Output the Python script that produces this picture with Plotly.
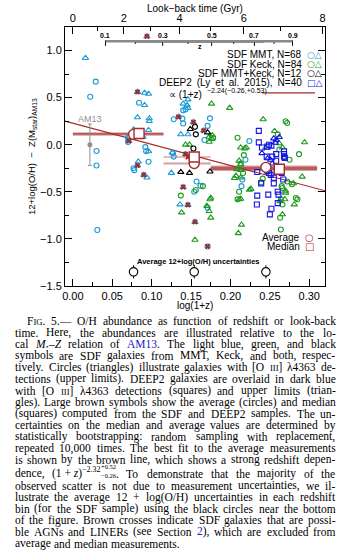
import glob
import re
import struct

import numpy as np
import plotly.graph_objects as go

# ---------------- data ----------------
# SDF MMT (light blue): [O III]4363 detections (circles) and upper limits (triangles)
mmt_det_x = [0.029, 0.022, 0.084, 0.092, 0.030, 0.030, 0.077, 0.078, 0.096, 0.031, 0.070, 0.070, 0.093,
             0.143, 0.140, 0.128, 0.140, 0.139, 0.174, 0.171, 0.167, 0.127, 0.128, 0.162, 0.154, 0.157,
             0.171, 0.171, 0.224, 0.219, 0.215, 0.214]
mmt_det_y = [0.67, 0.51, 0.445, -0.025, -0.066, -0.22, -0.25, -0.27, -0.18, -0.905, 0.074, 0.03, -0.07,
             0.375, 0.365, 0.27, 0.225, 0.277, 0.28, 0.20, 0.05, -0.09, -0.126, -0.435, -0.50, -0.39,
             -0.67, -1.08, 0.04, -0.16, -0.37, -0.44]
mmt_lim_x = [0.016, 0.094, 0.082, 0.091, 0.096, 0.091, 0.082, 0.097, 0.097, 0.077, 0.096, 0.071, 0.089,
             0.096, 0.082, 0.094, 0.083, 0.071, 0.090, 0.146, 0.145, 0.146, 0.140, 0.137, 0.146, 0.126,
             0.125, 0.136, 0.143, 0.134, 0.153, 0.166, 0.140, 0.146, 0.155]
mmt_lim_y = [0.92, 1.15, 0.56, 0.55, 0.54, 0.42, 0.29, 0.28, 0.25, 0.16, 0.155, 0.08, 0.084,
             -0.07, -0.22, -0.35, -0.18, 0.04, -0.32, 0.48, 0.42, 0.39, 0.435, 0.11, 0.11, -0.084,
             -0.30, -0.635, -0.10, 0.295, 0.24, 0.15, -0.45, -0.64, -0.82]

# SDF Keck (green)
keck_det_x = [0.209, 0.165, 0.156, 0.137, 0.211, 0.270, 0.272, 0.260, 0.275, 0.217, 0.213, 0.265, 0.278,
              0.264, 0.266, 0.285, 0.263, 0.264, 0.272, 0.266, 0.283, 0.241, 0.239, 0.209, 0.268, 0.178,
              0.262, 0.216, 0.287]
keck_det_y = [0.074, -0.44, -0.48, -0.54, -0.50, 0.25, 0.23, 0.11, -0.16, -0.11, -0.20, -0.44, -0.42,
              -0.58, -0.635, -0.58, -0.775, -0.90, -0.39, -0.46, -0.565, -0.36, -0.40, -0.58, -0.13, 0.07,
              -0.05, -0.30, -0.10]
keck_lim_x = [0.176, 0.199, 0.173, 0.176, 0.143, 0.148, 0.213, 0.218, 0.177, 0.173, 0.174, 0.175, 0.170,
              0.173, 0.175, 0.138, 0.155, 0.210, 0.214, 0.213, 0.205, 0.2415, 0.256, 0.294, 0.220, 0.262,
              0.266, 0.213, 0.213, 0.207, 0.226, 0.211, 0.270, 0.291, 0.263, 0.269, 0.281, 0.266, 0.224,
              0.211, 0.213, 0.270, 0.280, 0.241, 0.208, 0.245]
keck_lim_y = [0.435, 0.39, 0.084, 0.066, 0.0, 0.0, -0.03, -0.04, 0.10, 0.03, -0.58, -0.565, -0.65,
              -0.705, -0.775, -0.72, -1.01, -0.94, -0.85, -0.575, -0.355, 0.27, 0.145, 0.025, -0.03, 0.014,
              -0.03, -0.21, -0.27, -0.33, -0.47, -0.58, -0.49, -0.34, -0.60, -0.58, -0.635, -0.74, -0.48,
              -0.17, -0.35, -0.51, -0.41, -0.25, -0.26, -0.03]

# SDF MMT+Keck (black)
both_det_x = [0.155, 0.156, 0.153]
both_det_y = [0.19, 0.11, -0.04]
both_lim_x = [0.149, 0.171, 0.137, 0.148, 0.174]
both_lim_y = [0.165, 0.13, -0.29, -0.30, -0.285]

# DEEP2 (dark blue): detections (squares) and upper limits (triangles)
deep_det_x = [0.236, 0.236, 0.240, 0.247, 0.249, 0.252, 0.258, 0.268, 0.246, 0.253, 0.258, 0.268, 0.268,
              0.269, 0.247, 0.249, 0.251, 0.239, 0.255, 0.234, 0.265, 0.267, 0.234, 0.248, 0.260, 0.261,
              0.252, 0.250, 0.2335, 0.260, 0.255]
deep_det_y = [0.147, 0.025, -0.03, -0.02, 0.0, -0.01, -0.10, -0.10, -0.126, -0.126, -0.17, -0.126, -0.07,
              -0.14, -0.28, -0.30, -0.32, -0.41, -0.41, -0.29, -0.30, -0.37, -0.54, -0.53, -0.50, -0.53,
              -0.68, -0.74, -0.635, -0.62, -0.35]
deep_lim_x = [0.255, 0.258, 0.240, 0.247, 0.251, 0.253, 0.257, 0.262]
deep_lim_y = [0.066, 0.05, -0.09, -0.145, -0.16, -0.20, 0.02, 0.08]

# possible AGN / LINERs (brown crosses)
agn_x = [0.094, 0.082, 0.071, 0.082, 0.090, 0.134, 0.153, 0.166, 0.143, 0.146, 0.140, 0.146, 0.155, 0.171]
agn_y = [1.15, 0.56, 0.04, -0.22, -0.32, 0.295, 0.24, 0.15, -0.10, -0.13, -0.45, -0.64, -0.82, -1.08]

# binned statistics: bin edges in log(1+z), average and median with bootstrap ranges
bin_lo = [0.0, 0.115, 0.175]
bin_hi = [0.115, 0.175, 0.31]
avg_x = [0.077, 0.154, 0.245]
avg_y = [0.11, -0.20, -0.24]
avg_lo = [0.095, -0.21, -0.265]
avg_hi = [0.125, -0.19, -0.22]
med_x = [0.084, 0.154, 0.262]
med_y = [0.12, -0.13, -0.26]
med_lo = [0.105, -0.135, -0.275]
med_hi = [0.13, -0.125, -0.235]

# average 12+log(O/H) measurement uncertainty per bin (SDF)
unc_y = [-1.35, -1.35, -1.35]
unc_err = [0.07, 0.07, 0.07]

# local relation reference point
am13_x = [0.0216]
am13_y = [0.0]
am13_err = [0.22]

# best fit: y = intercept + slope * log(1+z)
fit_slope = -2.24
fit_intercept = 0.228

# redshift scale and look-back time ticks
z_labels = [0.1, 0.3, 0.5, 0.7, 0.9]
z_minor = [0.2, 0.4, 0.6, 0.8]
z_span = [0.1, 0.9]
z_dark = [0.2, 0.75]
lbt_major = [0, 2, 4, 6, 8]
lbt_minor = [1, 3, 5, 7]

# ---------------- styling ----------------
LBLUE = "#1c9ad6"
GREEN = "#1f9a1f"
DBLUE = "#1414e6"
BROWN = "#a52a2a"
LINK = "#2020c0"
XR = [-0.01, 0.32]
YR = [-1.5, 1.25]
W, H = 347, 557
ML, MR, MT, MB = 65, 22, 24, 271
PW, PH = W - ML - MR, H - MT - MB
SANS = "Liberation Sans"
SERIF = "Liberation Serif"


def px(xpix):
    return (xpix - ML) / PW


def py(ypix):
    return (MT + PH - ypix) / PH


def note(xpix, ypix, text, size=10, xanchor="center", family=SANS, color="black", **kw):
    fig.add_annotation(xref="paper", yref="paper", x=px(xpix), y=py(ypix), xanchor=xanchor,
                       yanchor="middle", text=text, showarrow=False,
                       font=dict(size=size, family=family, color=color), **kw)


# ---------- font metrics for laying out the justified caption ----------
def load_advance(fname):
    paths = glob.glob(f"/usr/share/fonts/**/{fname}", recursive=True)
    if not paths:
        return None
    data = open(paths[0], "rb").read()
    ntab = struct.unpack(">H", data[4:6])[0]
    tabs = {}
    for i in range(ntab):
        tag, _, off, ln = struct.unpack(">4sIII", data[12 + 16 * i:28 + 16 * i])
        tabs[tag.decode("latin1")] = off
    upem = struct.unpack(">H", data[tabs["head"] + 18:tabs["head"] + 20])[0]
    nhm = struct.unpack(">H", data[tabs["hhea"] + 34:tabs["hhea"] + 36])[0]
    hm = tabs["hmtx"]
    adv = [struct.unpack(">H", data[hm + 4 * i:hm + 4 * i + 2])[0] for i in range(nhm)]
    cm = tabs["cmap"]
    sub = None
    for i in range(struct.unpack(">H", data[cm + 2:cm + 4])[0]):
        pid, eid, off = struct.unpack(">HHI", data[cm + 4 + 8 * i:cm + 12 + 8 * i])
        if pid == 3 and eid == 1:
            sub = cm + off
    if sub is None or struct.unpack(">H", data[sub:sub + 2])[0] != 4:
        return None
    seg2 = struct.unpack(">H", data[sub + 6:sub + 8])[0]
    n = seg2 // 2
    ends = struct.unpack(f">{n}H", data[sub + 14:sub + 14 + seg2])
    so = sub + 16 + seg2
    starts = struct.unpack(f">{n}H", data[so:so + seg2])
    deltas = struct.unpack(f">{n}h", data[so + seg2:so + 2 * seg2])
    ro = so + 2 * seg2
    ros = struct.unpack(f">{n}H", data[ro:ro + seg2])

    def glyph(c):
        c = ord(c)
        for k in range(n):
            if c <= ends[k]:
                if c < starts[k]:
                    return None
                if ros[k] == 0:
                    return (c + deltas[k]) & 0xFFFF
                a = ro + 2 * k + ros[k] + 2 * (c - starts[k])
                g = struct.unpack(">H", data[a:a + 2])[0]
                return (g + deltas[k]) & 0xFFFF if g else None
        return None

    def em(text):
        tot = 0.0
        for ch in text:
            g = glyph(ch)
            tot += (adv[min(g, nhm - 1)] / upem) if g else 0.5
        return tot
    return em


try:
    _reg = load_advance("LiberationSerif-Regular.ttf")
    _ita = load_advance("LiberationSerif-Italic.ttf") or _reg
except Exception:
    _reg = _ita = None


def measure(text, size, italic):
    fn = _ita if italic else _reg
    if fn is None:
        return 0.45 * len(text) * size
    return fn(text) * size


TAG = re.compile(r"<[^>]+>")


def markup_width(markup, size):
    w, pos, ital, stack, cur = 0.0, 0, 0, [], size
    for m in TAG.finditer(markup):
        w += measure(markup[pos:m.start()], cur, ital > 0)
        tag = m.group(0)
        if tag == "<i>":
            ital += 1
        elif tag == "</i>":
            ital -= 1
        elif tag.startswith("<span"):
            stack.append(cur)
            fm = re.search(r"font-size:([\d.]+)px", tag)
            if fm:
                cur = float(fm.group(1))
        elif tag in ("<sub>", "<sup>"):
            stack.append(cur)
            cur *= 0.7
        elif tag in ("</span>", "</sub>", "</sup>") and stack:
            cur = stack.pop()
        pos = m.end()
    return w + measure(markup[pos:], cur, ital > 0)


# look-back time (H0=70, Om=0.3 flat) -> log(1+z)
zg = np.linspace(0, 1.4, 4001)
ez = np.sqrt(0.3 * (1 + zg) ** 3 + 0.7)
integrand = 1.0 / ((1 + zg) * ez)
tl = np.concatenate([[0], np.cumsum(0.5 * (integrand[1:] + integrand[:-1]) * np.diff(zg))]) * 977.8 / 70.0


def lbt_to_x(t):
    return np.log10(1 + np.interp(t, tl, zg))


fig = go.Figure()

# bin bands
for i in range(len(bin_lo)):
    for lo, hi, op in ((avg_lo[i], avg_hi[i], 0.45), (med_lo[i], med_hi[i], 0.6)):
        fig.add_trace(go.Scatter(x=[bin_lo[i], bin_hi[i], bin_hi[i], bin_lo[i], bin_lo[i]],
                                 y=[lo, lo, hi, hi, lo], mode="lines", fill="toself",
                                 fillcolor=f"rgba(165,42,42,{op})", line=dict(width=0),
                                 showlegend=False, hoverinfo="skip"))

# best-fit line
fx = np.linspace(XR[0], XR[1], 50)
fig.add_trace(go.Scatter(x=fx, y=fit_intercept + fit_slope * fx, mode="lines",
                         line=dict(color=BROWN, width=1.2), showlegend=False))


def pts(x, y, sym, color, size):
    fig.add_trace(go.Scatter(x=x, y=y, mode="markers", showlegend=False,
                             marker=dict(symbol=sym, color=color, size=size,
                                         line=dict(width=1.1, color=color))))


pts(mmt_det_x, mmt_det_y, "circle-open", LBLUE, 5)
pts(mmt_lim_x, mmt_lim_y, "triangle-up-open", LBLUE, 5.5)
pts(keck_det_x, keck_det_y, "circle-open", GREEN, 5)
pts(keck_lim_x, keck_lim_y, "triangle-up-open", GREEN, 5.5)
pts(both_det_x, both_det_y, "circle-open", "black", 5)
pts(both_lim_x, both_lim_y, "triangle-up-open", "black", 5.5)
pts(deep_det_x, deep_det_y, "square-open", DBLUE, 5)
pts(deep_lim_x, deep_lim_y, "triangle-up-open", DBLUE, 5.5)

fig.add_trace(go.Scatter(x=agn_x, y=agn_y, mode="markers", showlegend=False,
                         marker=dict(symbol="x", size=5, color=BROWN, line=dict(width=0))))

# average and median
fig.add_trace(go.Scatter(x=avg_x, y=avg_y, mode="markers", showlegend=False,
                         marker=dict(symbol="circle", size=10, color="white",
                                     line=dict(color=BROWN, width=1.4))))
fig.add_trace(go.Scatter(x=med_x, y=med_y, mode="markers", showlegend=False,
                         marker=dict(symbol="square", size=10, color="white",
                                     line=dict(color=BROWN, width=1.4))))

# measurement uncertainties
fig.add_trace(go.Scatter(x=avg_x, y=unc_y, mode="markers", showlegend=False,
                         error_y=dict(type="data", array=unc_err, color="black", thickness=1, width=0),
                         marker=dict(symbol="circle", size=8.5, color="white",
                                     line=dict(color="black", width=1.1))))

# AM13 reference
fig.add_trace(go.Scatter(x=am13_x, y=am13_y, mode="markers", showlegend=False,
                         error_y=dict(type="data", array=am13_err, color="#909090", thickness=1, width=2),
                         marker=dict(symbol="circle", size=5, color="#909090")))
fig.add_annotation(x=am13_x[0], y=am13_y[0] + am13_err[0] + 0.05, text="AM13", showarrow=False,
                   xanchor="center", yanchor="middle",
                   font=dict(size=9, color="#909090", family=SANS))

# inset redshift bar
zx = lambda z: np.log10(1 + np.asarray(z, dtype=float))
BAR_Y = 1.10
fig.add_trace(go.Scatter(x=zx(z_span), y=[BAR_Y, BAR_Y], mode="lines", xaxis="x2",
                         line=dict(color="#8a8a8a", width=2.5), showlegend=False))
fig.add_trace(go.Scatter(x=zx(z_dark), y=[BAR_Y, BAR_Y], mode="lines",
                         line=dict(color="#2a2a2a", width=2.5), showlegend=False))
tkx, tky = [], []
for z in z_labels:
    tkx += [zx(z), zx(z), None]
    tky += [BAR_Y - 0.05, BAR_Y + 0.01, None]
for z in z_minor:
    tkx += [zx(z), zx(z), None]
    tky += [BAR_Y - 0.03, BAR_Y, None]
fig.add_trace(go.Scatter(x=tkx, y=tky, mode="lines", line=dict(color="black", width=1), showlegend=False))
for z in z_labels:
    fig.add_annotation(x=float(zx(z)), y=BAR_Y + 0.055, text=f"<b>{z:.1f}</b>", showarrow=False,
                       xanchor="center", yanchor="middle",
                       font=dict(size=7, family=SANS, color="black"))
fig.add_annotation(x=float(zx(0.45)), y=BAR_Y - 0.055, text="<b>z</b>", showarrow=False,
                   xanchor="center", yanchor="middle", font=dict(size=7, family=SANS, color="black"))

# legend block
leg = [("SDF MMT, N=68", LBLUE, "○△", 52),
       ("SDF Keck, N=84", GREEN, "○△", 61.5),
       ("SDF MMT+Keck, N=12", "black", "○△", 71),
       ("DEEP2\u2002(Ly\u2002et\u2002al.\u20022015),\u2002N=40", DBLUE, "□△", 80.5)]
for txt, col, sym, ypix in leg:
    note(304, ypix, txt, xanchor="right")
    note(305, ypix, sym, xanchor="left", family="DejaVu Sans", color=col, size=9)
note(167, 92, "∝ (1+z)", xanchor="left", size=10)
note(205, 88.5, "−2.24(−0.26,+0.53)", xanchor="left", size=7)
fig.add_shape(type="line", xref="paper", yref="paper", x0=px(262), x1=px(315), y0=py(90.7), y1=py(90.7),
              line=dict(color=BROWN, width=1.2))

note(302, 237, "Average", xanchor="right")
note(303, 237, "○", xanchor="left", family="DejaVu Sans", color=BROWN, size=10)
note(302, 246.5, "Median", xanchor="right")
note(303, 246.5, "□", xanchor="left", family="DejaVu Sans", color=BROWN, size=10)
note(198, 261, "<b>Average 12+log(O/H) uncertainties</b>", size=7.5)

# axis titles
note(31.5, 155, "12+log(O/H)  −  Z(M<sub>star</sub>)<sub>AM13</sub>", size=9.5, textangle=-90)
note(195, 305.5, "log(1+z)", size=10)
note(195, 5.5, "Look−back time (Gyr)", size=10)

# ---------- caption (justified, one annotation per word) ----------
CAPS = 11.5
SC = "<span style='font-size:8.6px'>"
special = {
    "@MZ": [("<i>M</i>", CAPS, 0, True), ("⋆", 7, 2.5, True), ("–<i>Z</i>", CAPS, 0, True)],
    "@FIT": [("(1 + <i>z</i>)", CAPS, 0, True), ("−2.32", 8, -4.5, True),
             ("+0.52", 6.5, -7.5, False), ("−0.26", 6.5, 1.5, True)],
}
cap = [
    f"F{SC}IG</span>. 5.— O/H abundance as function of redshift or look-back",
    "time. Here, the abundances are illustrated relative to the lo-",
    f"cal @MZ relation of <span style='color:{LINK}'>AM13</span>. The light blue, green, and black",
    "symbols are SDF galaxies from MMT, Keck, and both, respec-",
    f"tively. Circles (triangles) illustrate galaxies with [O {SC}III</span>] λ4363 de-",
    "tections (upper limits). DEEP2 galaxies are overlaid in dark blue",
    f"with [O {SC}III</span>] λ4363 detections (squares) and upper limits (trian-",
    "gles). Large brown symbols show the average (circles) and median",
    "(squares) computed from the SDF and DEEP2 samples. The un-",
    "certainties on the median and average values are determined by",
    "statistically bootstrapping: random sampling with replacement,",
    "repeated 10,000 times. The best fit to the average measurements",
    "is shown by the brown line, which shows a strong redshift depen-",
    "dence, @FIT. To demonstrate that the majority of the",
    "observed scatter is not due to measurement uncertainties, we il-",
    "lustrate the average 12 + log(O/H) uncertainties in each redshift",
    "bin (for the SDF sample) using the black circles near the bottom",
    "of the figure. Brown crosses indicate SDF galaxies that are possi-",
    f"ble AGNs and LINERs (see Section <span style='color:{LINK}'>2</span>), which are excluded from",
    "average and median measurements.",
]
cap_y = [321.7 + 11.67 * i for i in range(13)] + [476.0] + [488 + 11.7 * i for i in range(6)]
RIGHT = 333.5
WORD = re.compile(r"(?:<[^>]+>|[^\s<])+")


def word_pieces(word):
    for key, pieces in special.items():
        if key in word:
            pre, post = word.split(key)
            out = []
            if pre:
                out.append((pre, CAPS, 0, True))
            out += pieces
            if post:
                out.append((post, CAPS, 0, True))
            return out
    return [(word, CAPS, 0, True)]


for i, line in enumerate(cap):
    words = [word_pieces(w) for w in WORD.findall(line)]
    widths = [sum(markup_width(m, s) for m, s, _, adv in wp if adv) for wp in words]
    left = 25 if i == 0 else 12.5
    if i == len(cap) - 1:
        gap = measure(" ", CAPS, False) * 1.2
    else:
        gap = (RIGHT - left - sum(widths)) / max(len(words) - 1, 1)
    x = left
    for wp, wd in zip(words, widths):
        cx = x
        for m, s, dy, adv in wp:
            note(cx, cap_y[i] + dy, m, size=s, xanchor="left", family=SERIF)
            if adv:
                cx += markup_width(m, s)
        x += wd + gap

axfont = dict(size=11, family=SANS, color="black")
fig.update_layout(
    width=W, height=H, margin=dict(l=ML, r=MR, t=MT, b=MB),
    paper_bgcolor="white", plot_bgcolor="white", showlegend=False,
    xaxis=dict(range=XR, tickvals=[0, 0.05, 0.10, 0.15, 0.20, 0.25, 0.30], tickformat=".2f",
               ticks="inside", ticklen=7, tickwidth=1, tickcolor="black", showline=True, linecolor="black",
               linewidth=1, showgrid=False, zeroline=False, tickfont=axfont,
               minor=dict(dtick=0.025, tick0=0, ticks="inside", ticklen=4, tickcolor="black", showgrid=False)),
    xaxis2=dict(range=XR, overlaying="x", side="top", tickvals=list(lbt_to_x(lbt_major)),
                ticktext=[str(t) for t in lbt_major], ticks="inside", ticklen=7, tickcolor="black",
                showline=True, linecolor="black", linewidth=1, showgrid=False, zeroline=False, tickfont=axfont,
                minor=dict(tickmode="array", tickvals=list(lbt_to_x(lbt_minor)), ticks="inside", ticklen=4,
                           tickcolor="black", showgrid=False)),
    yaxis=dict(range=YR, tickvals=[-1.5, -1.0, -0.5, 0.0, 0.5, 1.0], tickformat=".1f",
               ticks="inside", ticklen=7, tickcolor="black", showline=True, linecolor="black", linewidth=1,
               mirror="ticks", showgrid=False, zeroline=False, tickfont=axfont,
               minor=dict(dtick=0.25, tick0=0, ticks="inside", ticklen=4, tickcolor="black", showgrid=False)),
)

fig.write_html("out.html")
